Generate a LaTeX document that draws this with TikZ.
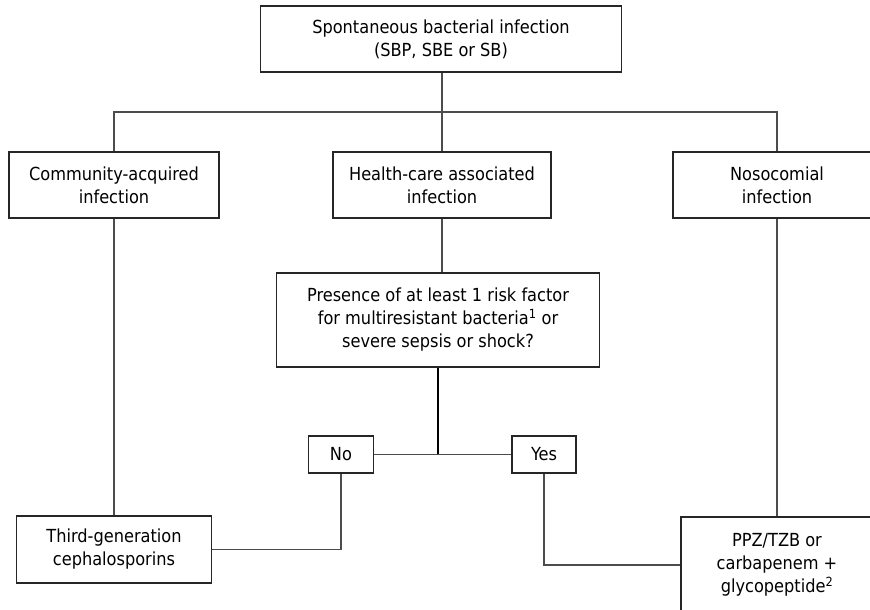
\documentclass[tikz,border=0pt]{standalone}
\usepackage{fontspec}
\setmainfont{DejaVu Sans Condensed}
\usepackage{tikz}

\begin{document}
\begin{tikzpicture}[x=1pt,y=-1pt,
  font=\fontsize{18}{23}\selectfont,
  box/.style={draw=black!85,line width=1.3pt,align=center,inner sep=0pt},
  link/.style={draw=black!70,line width=1.4pt}]
\clip (0,0) rectangle (870,610);
\node[box,minimum width=210pt,minimum height=66pt] (comm) at (114,185) {Community-acquired\\infection};
\node[box,minimum width=361pt,minimum height=66pt] (top) at (441,39) {Spontaneous bacterial infection\\(SBP, SBE or SB)};
\node[box,minimum width=218pt,minimum height=66pt] (health) at (442,185) {Health-care associated\\infection};
\node[box,minimum width=208pt,minimum height=66pt] (noso) at (777,185) {Nosocomial\\infection};
\node[box,minimum width=323pt,minimum height=94pt] (pres) at (438,320) {Presence of at least 1 risk factor\\for multiresistant bacteria\textsuperscript{1} or\\severe sepsis or shock?};
\node[box,minimum width=65pt,minimum height=37pt] (no) at (341,454.5) {No};
\node[box,minimum width=64pt,minimum height=37pt] (yes) at (544,454.5) {Yes};
\node[box,minimum width=195pt,minimum height=67pt] (third) at (114,549.5) {Third-generation\\cephalosporins};
\node[box,minimum width=192pt,minimum height=96pt] (ppz) at (777,565) {PPZ/TZB or\\carbapenem +\\glycopeptide\textsuperscript{2}};
\coordinate (bar) at (442,112);
\coordinate (fork) at (pres.south |- no.east);
\draw[link] (bar |- top.south) -- (health.north);
\draw[link] (comm.north) |- (bar) -| (noso.north);
\draw[link] (comm.south) -- (third.north);
\draw[link] (noso.south) -- (ppz.north);
\draw[link] (health.south) -- (health.south |- pres.north);
\draw[link,draw=black] (pres.south) -- (fork);
\draw[link] (no.east) -- (fork) -- (yes.west);
\draw[link] (no.south) |- (third.east);
\draw[link] (yes.south) |- (ppz.west);
\end{tikzpicture}
\end{document}
